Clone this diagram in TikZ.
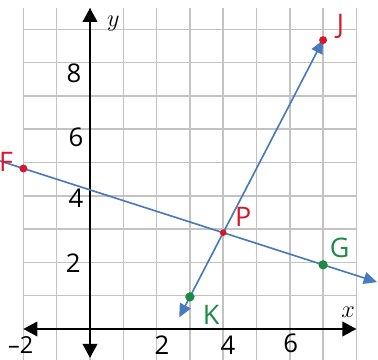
\documentclass[tikz,border=0pt]{standalone}
\usepackage{fontspec}
\setmainfont{Open Sans}
\usetikzlibrary{arrows.meta}
\definecolor{ptred}{RGB}{214,24,44}
\definecolor{ptgreen}{RGB}{28,138,66}
\definecolor{lineblue}{RGB}{72,122,188}
\definecolor{gridgray}{RGB}{195,195,195}
\tikzset{
  gridline/.style={draw=gridgray, line width=1.3pt},
  axis/.style={draw=black, line width=1.6pt, {Triangle[length=4.2mm,width=4.4mm]}-{Triangle[length=4.2mm,width=4.4mm]}},
  blueline/.style={draw=lineblue, line width=1.4pt},
  bluetip/.style={-{Triangle[length=4mm,width=3.6mm]}},
  dot/.style={circle, inner sep=0pt, minimum size=2.4mm},
  ptlabel/.style={font=\fontsize{23}{26}\selectfont, inner sep=0pt},
  ticklabel/.style={font=\fontsize{22}{25}\selectfont, inner sep=0pt},
  axlabel/.style={font=\fontsize{21}{24}\selectfont, inner sep=0pt}
}
\begin{document}
\begin{tikzpicture}[x=1cm, y=0.964cm]
\useasboundingbox (-2.703,-0.966) rectangle (8.649,10.249);
\fill[white] (-2.703,-0.966) rectangle (8.649,10.249);
% grid
\draw[gridline] (-2,-0.966) grid (8,10);
% axes
\coordinate (xl) at (-2,0);
\coordinate (xr) at (8,0);
\coordinate (yt) at (0,10);
\coordinate (yb) at (0,-0.9);
\draw[axis] (xl) -- (xr);
\draw[axis] (yb) -- (yt);
\node[axlabel] (xlab) at (7.75,0.52) {$x$};
\node[axlabel] (ylab) at (0.7,9.5) {$y$};
% tick labels
\node[ticklabel, font=\fontsize{20}{24}\selectfont] (tm2) at (-2.08,-0.5) {–2};
\node[ticklabel] (t2) at (2.16,-0.5) {2};
\node[ticklabel] (t4) at (4.14,-0.5) {4};
\node[ticklabel] (t6) at (6.03,-0.45) {6};
\node[ticklabel] (u2) at (-0.5,2.05) {2};
\node[ticklabel] (u4) at (-0.42,4.08) {4};
\node[ticklabel] (u6) at (-0.42,5.98) {6};
\node[ticklabel] (u8) at (-0.48,7.97) {8};
% points
\coordinate (Fc) at (-2,5);
\coordinate (Gc) at (7,2);
\coordinate (Jc) at (7,9);
\coordinate (Kc) at (3,1);
\coordinate (Pc) at (4,3);
% lines
\coordinate (FGl) at (-2.75,5.25);
\coordinate (FGr) at (8.62,1.46);
\coordinate (KJb) at (2.68,0.36);
\draw[blueline, bluetip] (FGl) -- (FGr);
\draw[blueline, bluetip] (Pc) -- (KJb);
\draw[blueline, bluetip] (Pc) -- (Jc);
% dots
\node[dot, fill=ptred] (F) at (Fc) {};
\node[dot, fill=ptred] (J) at (Jc) {};
\node[dot, fill=ptred, minimum size=2mm] (P) at (Pc) {};
\node[dot, fill=ptgreen, minimum size=2.8mm] (G) at (Gc) {};
\node[dot, fill=ptgreen, minimum size=2.8mm] (K) at (Kc) {};
% point labels
\node[ptlabel, text=ptred] (Flab) at (-2.52,5.2) {F};
\node[ptlabel, text=ptred] (Jlab) at (7.52,9.42) {J};
\node[ptlabel, text=ptred] (Plab) at (4.6,3.5) {P};
\node[ptlabel, text=ptgreen] (Glab) at (7.5,2.53) {G};
\node[ptlabel, text=ptgreen] (Klab) at (3.64,0.44) {K};
\end{tikzpicture}
\end{document}
